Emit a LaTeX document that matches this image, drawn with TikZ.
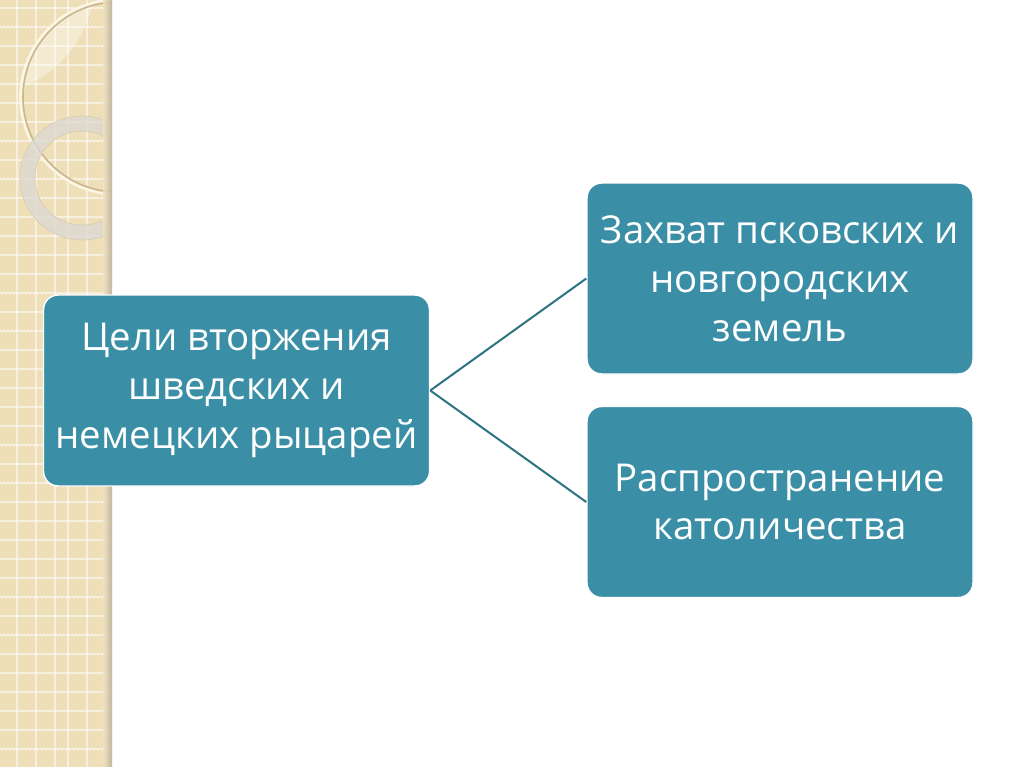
\documentclass[tikz,border=0pt]{standalone}
\usepackage{fontspec}
\setmainfont{Open Sans}
\usetikzlibrary{patterns}
\definecolor{stripbeige}{HTML}{F1E2BE}
\definecolor{stripdot}{HTML}{E0C892}
\definecolor{stripshadow}{HTML}{BDB49E}
\definecolor{ringcream}{HTML}{FBF6E6}
\definecolor{ringshade}{HTML}{C9B78E}
\definecolor{ringgrey}{HTML}{DCD9D2}
\definecolor{boxteal}{HTML}{3A8FA6}
\definecolor{linkteal}{HTML}{2D7382}
\tikzset{
	goalbox/.style={draw=white, line width=1.1pt, fill=boxteal, rounded corners=11pt,
		text=white, align=center, inner sep=0pt, minimum width=289.5pt, minimum height=143.25pt,
		font=\fontsize{28.8}{36.6}\selectfont},
	link/.style={draw=linkteal, line width=1.5pt}
}
\begin{document}
\begin{tikzpicture}[x=0.75pt, y=-0.75pt]
			%%%%% START %%%%%
			\useasboundingbox[fill=white] (0, 0) rectangle (1024, 767);
			
			% left strip
			\begin{scope}
			\clip (0, 0) rectangle (112, 767);
			\fill[stripbeige] (0, 0) rectangle (112, 767);
			\fill[pattern=crosshatch dots, pattern color=stripdot] (0, 0) rectangle (112, 767);
			\foreach \gx in {17, 36, 55, 68, 87, 106}
				\draw[white, opacity=0.55, line width=0.8pt] (\gx, 0) -- (\gx, 767);
			\foreach \gy in {8, 27, 46, ..., 767}
				\draw[white, opacity=0.55, line width=0.8pt] (0, \gy) -- (112, \gy);
			
			\begin{scope}
			\clip (118, 97) circle (97);
			\fill[white, opacity=0.35] (-20, -20) circle (115);
			\end{scope}
			\draw[ringshade, line width=1.2pt] (118, 97) circle (95);
			\draw[ringcream, line width=1.8pt] (118, 97) circle (97.5);
			
			\draw[ringgrey, opacity=0.8, line width=11.25pt] (82, 178) circle (54.5);
			\draw[ringshade!70, line width=0.5pt] (82, 178) circle (62);
			\draw[ringshade!70, line width=0.5pt] (82, 178) circle (47);
			
			\shade[left color=stripbeige, right color=stripshadow, opacity=0.9] (103, 0) rectangle (112, 767);
			\end{scope}
			
			% boxes
			\node[goalbox] (goals) at (236.5, 390.5) {Цели вторжения\\шведских и\\немецких рыцарей};
			\node[goalbox] (capture) at (780, 278.5) {Захват псковских и\\новгородских\\земель};
			\node[goalbox] (faith) at (780, 502) {Распространение\\католичества};
			
			\draw[link] (goals.east) -- (capture.west);
			\draw[link] (goals.east) -- (faith.west);
			%%%%% END %%%%%
\end{tikzpicture}
\end{document}
